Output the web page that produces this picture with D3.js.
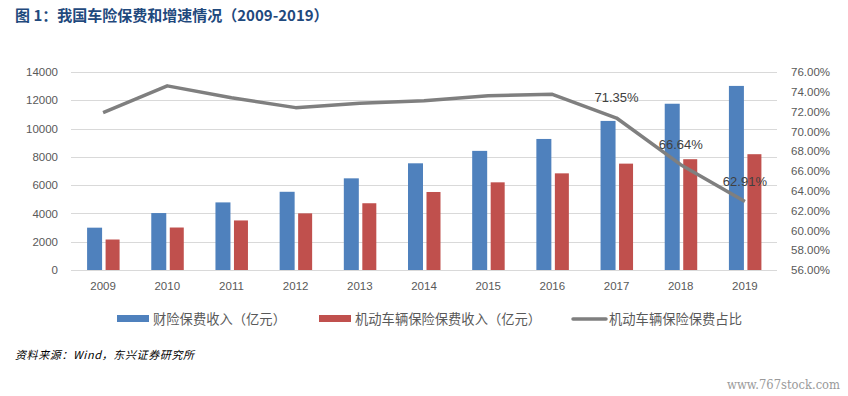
<!DOCTYPE html>
<html><head><meta charset="utf-8">
<script src="https://cdn.jsdelivr.net/npm/d3@7"></script>
<style>
html,body{margin:0;padding:0;background:#fff;}
svg{display:block;}
</style></head>
<body>
<svg id="c" width="848" height="396"></svg>
<script>
const years = ["2009","2010","2011","2012","2013","2014","2015","2016","2017","2018","2019"];
const propertyPremium = [2993, 4027, 4780, 5530, 6481, 7544, 8423, 9266, 10541, 11756, 13016];
const motorPremium = [2156, 3004, 3504, 4005, 4720, 5516, 6199, 6834, 7521, 7834, 8188];
const motorShare = [71.9, 74.6, 73.4, 72.4, 72.85, 73.1, 73.6, 73.75, 71.35, 66.64, 62.91];
const labelYears = ["2017","2018","2019"];
const leftTicks = [0,2000,4000,6000,8000,10000,12000,14000];
const rightTicks = [56,58,60,62,64,66,68,70,72,74,76];
const legendNames = ["财险保费收入（亿元）","机动车辆保险保费收入（亿元）","机动车辆保险保费占比"];
const titleText = "图 1：我国车险保费和增速情况（2009-2019）";
const sourceText = "资料来源：Wind，东兴证券研究所";
const watermark = "www.767stock.com";

(function(){
const svg = d3.select("#c");
const pTop = 72, pBottom = 270, pLeft = 71, pRight = 777;
const x = d3.scaleBand().domain(years).range([pLeft, pRight]).padding(0);
const yL = d3.scaleLinear().domain([0,14000]).range([pBottom, pTop]);
const yR = d3.scaleLinear().domain([56,76]).range([pBottom, pTop]);
const cx = d => x(d) + x.bandwidth()/2;

// title
svg.append("text").attr("x",15).attr("y",20.5).text(titleText)
  .attr("font-family","'Noto Sans CJK SC', sans-serif").attr("font-weight","bold")
  .attr("font-size",15).attr("fill","#1f497d");

// gridlines
svg.append("g").selectAll("line").data(leftTicks).join("line")
  .attr("x1",pLeft).attr("x2",pRight)
  .attr("y1",d=>Math.round(yL(d))+0.5).attr("y2",d=>Math.round(yL(d))+0.5)
  .attr("stroke","#d9d9d9").attr("stroke-width",1);

// left axis
const axL = svg.append("g").attr("transform",`translate(${pLeft-13},0)`)
  .call(d3.axisLeft(yL).tickValues(leftTicks).tickSize(0).tickPadding(0).tickFormat(d3.format("d")));
axL.select(".domain").remove();
axL.selectAll("text").attr("font-family","'Liberation Sans', Arial, sans-serif")
  .attr("font-size",11.5).attr("fill","#595959");

// right axis
const axR = svg.append("g").attr("transform",`translate(${pRight+14},0)`)
  .call(d3.axisRight(yR).tickValues(rightTicks).tickSize(0).tickPadding(0).tickFormat(d=>d.toFixed(2)+"%"));
axR.select(".domain").remove();
axR.selectAll("text").attr("font-family","'Liberation Sans', Arial, sans-serif")
  .attr("font-size",11.5).attr("fill","#595959");

// x axis
const axX = svg.append("g").attr("transform",`translate(0,${pBottom+10})`)
  .call(d3.axisBottom(x).tickSize(0).tickPadding(0));
axX.select(".domain").remove();
axX.selectAll("text").attr("font-family","'Liberation Sans', Arial, sans-serif")
  .attr("font-size",11.5).attr("fill","#595959").attr("dy","0.9em");

// bars
svg.append("g").selectAll("rect").data(years).join("rect")
  .attr("x",(d)=>cx(d)-16).attr("width",15)
  .attr("y",(d,i)=>yL(propertyPremium[i])).attr("height",(d,i)=>yL(0)-yL(propertyPremium[i]))
  .attr("fill","#4f81bd");
svg.append("g").selectAll("rect").data(years).join("rect")
  .attr("x",(d)=>cx(d)+2.5).attr("width",14)
  .attr("y",(d,i)=>yL(motorPremium[i])).attr("height",(d,i)=>yL(0)-yL(motorPremium[i]))
  .attr("fill","#c0504d");

// line
const line = d3.line().x((d,i)=>cx(years[i])).y(d=>yR(d));
svg.append("path").datum(motorShare).attr("d",line)
  .attr("fill","none").attr("stroke","#7f7f7f").attr("stroke-width",3.5).attr("stroke-linejoin","round");

// data labels
svg.append("g").selectAll("text").data(labelYears).join("text")
  .attr("x",d=>cx(d)).attr("y",d=>yR(motorShare[years.indexOf(d)])-16)
  .attr("text-anchor","middle")
  .attr("font-family","'Liberation Sans', Arial, sans-serif").attr("font-size",13)
  .attr("fill","#404040")
  .text(d=>motorShare[years.indexOf(d)].toFixed(2)+"%");

// legend
const lg = svg.append("g").attr("font-family","'Noto Sans CJK SC', sans-serif").attr("font-size",13.3).attr("fill","#595959");
const legX = [117, 319, 573];
const legColors = ["#4f81bd","#c0504d","#7f7f7f"];
legendNames.forEach((n,i)=>{
  if(i<2){
    lg.append("rect").attr("x",legX[i]).attr("y",315).attr("width",32).attr("height",7).attr("fill",legColors[i]);
  } else {
    lg.append("line").attr("x1",legX[i]).attr("x2",legX[i]+33).attr("y1",319).attr("y2",319)
      .attr("stroke",legColors[i]).attr("stroke-width",3.5).attr("stroke-linecap","round");
  }
  lg.append("text").attr("x",legX[i]+36).attr("y",323.5).text(n);
});

// source
svg.append("text").attr("x",15).attr("y",359).text(sourceText)
  .attr("font-family","'Noto Sans CJK SC', sans-serif").attr("font-size",11)
  .attr("font-style","italic").attr("letter-spacing",1).attr("fill","#000")
  .attr("textLength",180).attr("lengthAdjust","spacing");

// watermark
svg.append("text").attr("x",727).attr("y",389).text(watermark)
  .attr("font-family","'DejaVu Serif', serif").attr("font-size",12.5)
  .attr("fill","#9a9a9a").attr("textLength",113).attr("lengthAdjust","spacingAndGlyphs");
})();
</script>
</body></html>
